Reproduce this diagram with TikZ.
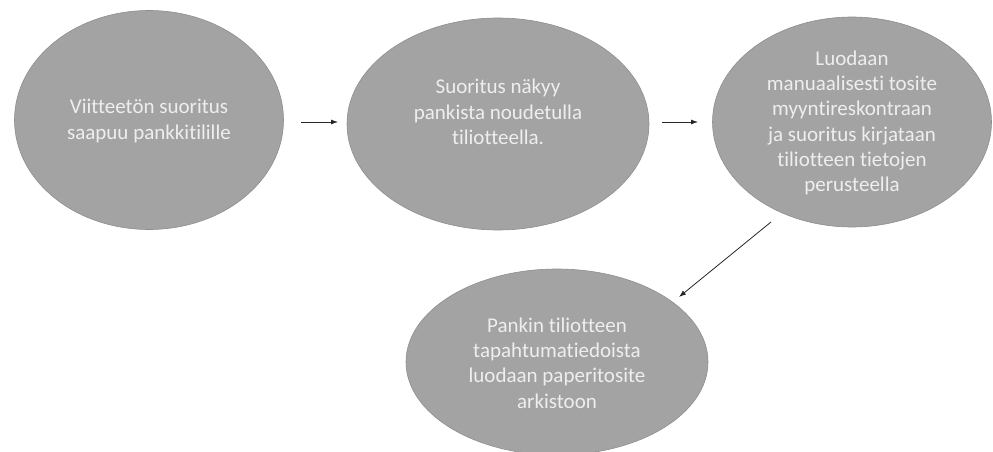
\documentclass[tikz,border=0pt]{standalone}
\usepackage{fontspec}
\setmainfont[Ligatures=NoCommon]{Carlito}
\usetikzlibrary{shapes.geometric,arrows.meta}
\definecolor{blobfill}{HTML}{A3A3A3}
\definecolor{blobedge}{HTML}{8E8E8E}
\definecolor{blobtext}{HTML}{EEEEEE}
\begin{document}
\begin{tikzpicture}[x=1pt,y=-1pt,
  blob/.style={ellipse, fill=blobfill, draw=blobedge, line width=0.6pt, inner sep=0pt},
  txt/.style={align=center, text=blobtext, font=\fontsize{21}{25.3}\selectfont, inner sep=0pt},
  conn/.style={draw=black!85, line width=0.8pt, -{Latex[length=7pt,width=5pt]}}]
\useasboundingbox (0,0) rectangle (993,452);
\node[blob, minimum width=269, minimum height=219] (e1) at (149,120) {};
\node[txt] (t1) at (149,121) {Viitteetön suoritus\\saapuu pankkitilille};
\node[blob, minimum width=302, minimum height=212] (e2) at (498,124) {};
\node[txt] (t2) at (498,112) {Suoritus näkyy\\pankista noudetulla\\tiliotteella.};
\node[blob, minimum width=279, minimum height=210] (e3) at (852,122) {};
\node[txt] (t3) at (852,123) {Luodaan\\manuaalisesti tosite\\myyntireskontraan\\ja suoritus kirjataan\\tiliotteen tietojen\\perusteella};
\node[blob, minimum width=302, minimum height=186] (e4) at (557,362) {};
\node[txt] (t4) at (557,363) {Pankin tiliotteen\\tapahtumatiedoista\\luodaan paperitosite\\arkistoon};
\coordinate (a1s) at (301,122);
\coordinate (a1e) at (338,122);
\coordinate (a2s) at (662,122);
\coordinate (a2e) at (698,122);
\coordinate (a3s) at (771,222);
\coordinate (a3e) at (679,297);
\draw[conn] (a1s) -- (a1e);
\draw[conn] (a2s) -- (a2e);
\draw[conn] (a3s) -- (a3e);
\end{tikzpicture}
\end{document}
